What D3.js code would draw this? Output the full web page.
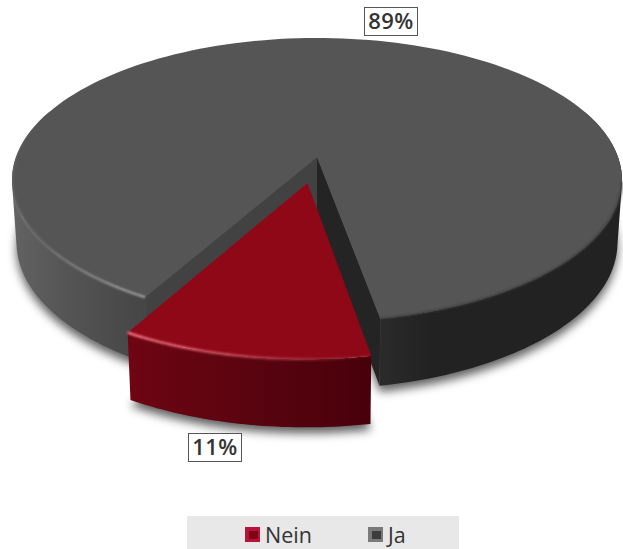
<!DOCTYPE html>
<html>
<head>
<meta charset="utf-8">
<script src="https://cdn.jsdelivr.net/npm/d3@7"></script>
<style>
  html, body { margin: 0; padding: 0; background: #fff; }
  svg { display: block; font-family: "Open Sans", sans-serif; }
</style>
</head>
<body>
<svg id="chart" width="623" height="549"></svg>
<script>
// Survey result: share of "Nein" and "Ja" answers
const categories = ["Nein", "Ja"];
const shares = [11, 89];
const shareLabels = ["11%", "89%"];

const W = 623, H = 549;
const deg = Math.PI / 180;
const svg = d3.select("#chart").attr("viewBox", [0, 0, W, H]);

// Perspective view of the disc: unit-circle coordinates are mapped to the page
const view = { cx: 317, cy: 157, a: 301, b: 138.3, k: 0.162, depth: 62, baseX: 0.985, baseY: 1.03 };
const explodeDist = 0.185;

const slices = d3.pie().sort(null).value(d => d)
  .startAngle(169.8 * deg).endAngle((169.8 + 360) * deg)(shares);

function project(theta, radius, level, ex = 0, ey = 0) {
  const ux = Math.sin(theta) * radius + ex;
  const uy = -Math.cos(theta) * radius + ey;
  const w = 1 - view.k * uy;
  const sx = level ? view.baseX : 1, sy = level ? view.baseY : 1;
  return [view.cx + view.a * sx * ux / w, view.cy + level * view.depth + view.b * sy * uy / w];
}

const line = d3.line();
const sweep = (a0, a1, n = 160) => d3.range(n + 1).map(i => a0 + (a1 - a0) * i / n);

function wedge(s, level, ex, ey) {
  const apex = project(0, 0, level, ex, ey);
  return line([apex, ...sweep(s.startAngle, s.endAngle).map(t => project(t, 1, level, ex, ey))]) + "Z";
}

const defs = svg.append("defs");
defs.append("filter").attr("id", "shadow").attr("x", "-20%").attr("y", "-20%").attr("width", "140%").attr("height", "140%")
  .append("feGaussianBlur").attr("stdDeviation", 5);
defs.append("filter").attr("id", "soft").attr("x", "-10%").attr("y", "-10%").attr("width", "120%").attr("height", "120%")
  .append("feGaussianBlur").attr("stdDeviation", 1);

// Horizontal shading for a side wall, given [x, colour] stops
function shade(id, stops) {
  const x0 = stops[0][0], x1 = stops[stops.length - 1][0];
  const g = defs.append("linearGradient").attr("id", id).attr("gradientUnits", "userSpaceOnUse")
    .attr("x1", x0).attr("x2", x1).attr("y1", 0).attr("y2", 0);
  stops.forEach(([x, c]) => g.append("stop").attr("offset", (x - x0) / (x1 - x0)).attr("stop-color", c));
  return `url(#${id})`;
}

// Side wall: one path of narrow quads wound the same way, so their union has no seams
function wall(parent, a0, a1, fill, ex, ey, n = 80) {
  const d = d3.range(n).map(i => {
    const t0 = a0 + (a1 - a0) * i / n, t1 = a0 + (a1 - a0) * (i + 1) / n;
    const quad = [project(t0, 1, 0, ex, ey), project(t1, 1, 0, ex, ey),
                  project(t1, 1, 1, ex, ey), project(t0, 1, 1, ex, ey)];
    if (d3.polygonArea(quad) < 0) quad.reverse();
    return line(quad) + "Z";
  }).join("");
  parent.append("path").attr("d", d).attr("fill", fill).attr("fill-rule", "nonzero");
}

// Rim highlight whose strength follows the angle
function rim(parent, a0, a1, color, opacity, width, ex, ey, n = 60) {
  const steps = d3.range(n).map(i => [a0 + (a1 - a0) * i / n, a0 + (a1 - a0) * (i + 1) / n]);
  parent.append("g").attr("filter", "url(#soft)").selectAll("path").data(steps).join("path")
    .attr("d", ([t0, t1]) => line([project(t0, 1, 0, ex, ey), project(t1, 1, 0, ex, ey)]))
    .attr("fill", "none").attr("stroke", color).attr("stroke-width", width)
    .attr("stroke-opacity", ([t0, t1]) => opacity((t0 + t1) / 2));
}

const [nein, ja] = slices;
const mid = (nein.startAngle + nein.endAngle) / 2;
const ex = Math.sin(mid) * explodeDist, ey = -Math.cos(mid) * explodeDist;

// Drop shadow beneath both pieces
const shadow = svg.append("g").attr("filter", "url(#shadow)").attr("transform", "translate(0,6)")
  .attr("fill", "#000").attr("fill-opacity", 0.62);
shadow.append("path").attr("d", wedge(ja, 1, 0, 0));
shadow.append("path").attr("d", wedge(nein, 1, ex, ey));

// Large slice: outer walls, cut faces, top
const jaG = svg.append("g");
wall(jaG, ja.startAngle, 290 * deg, shade("wallLeft", [[12, "#626262"], [70, "#545454"], [146, "#454545"]]), 0, 0);
wall(jaG, 70 * deg, nein.startAngle, shade("wallRight", [[378, "#2b2b2b"], [430, "#222222"], [622, "#222222"]]), 0, 0);

const apexTop = project(0, 0, 0), apexBase = project(0, 0, 1);
const cutFace = (t) => line([apexTop, project(t, 1, 0), project(t, 1, 1), apexBase]) + "Z";
jaG.append("path").attr("d", cutFace(ja.startAngle)).attr("fill", "#424242");
jaG.append("path").attr("d", cutFace(nein.startAngle)).attr("fill", "#242424");
jaG.append("path").attr("d", wedge(ja, 0, 0, 0)).attr("fill", "#555555");

rim(jaG, ja.startAngle, 285 * deg, "#c8c8c8",
  d3.scaleLinear().domain([ja.startAngle, 235 * deg, 285 * deg]).range([0.85, 0.28, 0.04]), 1.8, 0, 0);
rim(jaG, 100 * deg, nein.startAngle, "#363636", () => 0.8, 2, 0, 0);

// Pulled-out slice
const neinG = svg.append("g");
wall(neinG, nein.startAngle, nein.endAngle, shade("wallNein", [[130, "#6e0512"], [250, "#5a0410"], [370, "#48000a"]]), ex, ey, 40);
neinG.append("path").attr("d", wedge(nein, 0, ex, ey)).attr("fill", "#8f0818");
rim(neinG, nein.startAngle, nein.endAngle, "#ff8090",
  d3.scaleLinear().domain([nein.startAngle, nein.startAngle + 0.3, nein.endAngle]).range([0.05, 0.45, 1]), 2.4, ex, ey, 40);

// Value labels in framed boxes
const labelBoxes = [[188, 433, 54, 29], [364, 7, 54, 29]];
shareLabels.forEach((txt, i) => {
  const [x, y, w, h] = labelBoxes[i];
  svg.append("rect").attr("x", x + 0.5).attr("y", y + 0.5).attr("width", w - 1).attr("height", h - 1)
    .attr("fill", "#fff").attr("stroke", "#555").attr("stroke-width", 1);
  svg.append("text").attr("x", x + w / 2).attr("y", y + 22).attr("text-anchor", "middle")
    .attr("font-size", 22).attr("font-weight", 600).attr("letter-spacing", 0.4).attr("fill", "#333").text(txt);
});

// Legend band
svg.append("rect").attr("x", 187).attr("y", 516).attr("width", 272).attr("height", 33).attr("fill", "#e8e8e8");
const legendX = [[245, 265], [368, 388]];
const markerTones = [["#b8143a", "#7c0614"], ["#7a7a7a", "#3c3c3c"]];
categories.forEach((c, i) => {
  const [mx, tx] = legendX[i];
  const [edge, core] = markerTones[i];
  svg.append("rect").attr("x", mx).attr("y", 527).attr("width", 15).attr("height", 15).attr("fill", edge);
  svg.append("rect").attr("x", mx + 4).attr("y", 531).attr("width", 9).attr("height", 8).attr("fill", core);
  svg.append("text").attr("x", tx).attr("y", 543).attr("font-size", 21.5).attr("fill", "#333").text(c);
});
</script>
</body>
</html>
